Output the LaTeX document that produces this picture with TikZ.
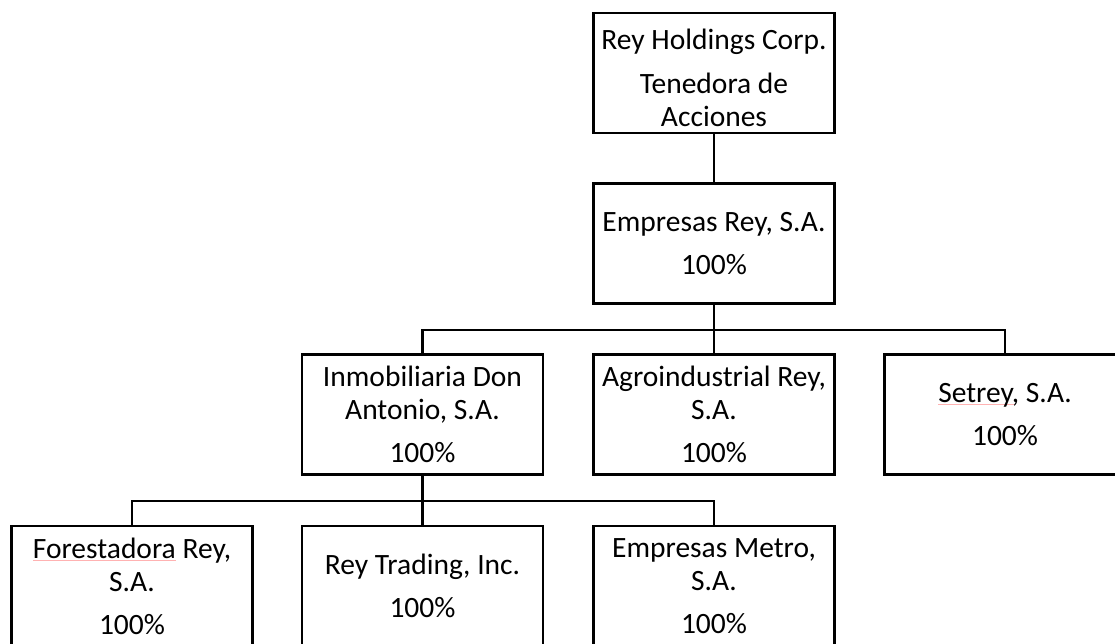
\documentclass[tikz,border=0pt]{standalone}
\usepackage{fontspec}
\setmainfont{Carlito}
\newcommand\spellmark[1]{\setbox0\hbox{#1}\rlap{\textcolor{red!30}{\rule[-2.5pt]{\wd0}{0.7pt}}}#1}
\begin{document}
\begin{tikzpicture}[x=1pt,y=-1pt,
  orgbox/.style={draw=black,line width=2.4pt,minimum width=241pt,minimum height=120pt,
    inner sep=2pt,align=center,font=\fontsize{29.5}{33}\selectfont},
  link/.style={draw=black,line width=2.4pt}]
\useasboundingbox (0,0) rectangle (1115,643);
\clip (0,0) rectangle (1115,643);
\node[orgbox] (top) at (714,73) {\rule{0pt}{31pt}Rey Holdings Corp.\\[11pt]Tenedora de\\Acciones};
\node[orgbox] (er) at (714,243.5) {Empresas Rey, S.A.\\[10pt]100\%};
\node[orgbox] (inm) at (422.5,414.5) {Inmobiliaria Don\\Antonio, S.A.\\[10pt]100\%};
\node[orgbox] (agr) at (714,414.5) {Agroindustrial Rey,\\S.A.\\[10pt]100\%};
\node[orgbox] (set) at (1005,414.5) {\spellmark{Setrey}, S.A.\\[10pt]100\%};
\node[orgbox] (for) at (132,586) {\spellmark{Forestadora} Rey,\\S.A.\\[10pt]100\%};
\node[orgbox] (tra) at (422.5,586) {Rey Trading, Inc.\\[10pt]100\%};
\node[orgbox] (met) at (714,586) {Empresas Metro,\\S.A.\\[10pt]100\%};
\coordinate (bus1) at (714,330);
\coordinate (bus2) at (422.5,501);
\draw[link] (top) -- (er);
\draw[link] (er) -- (bus1);
\draw[link] (inm.north) |- (bus1) -| (set.north);
\draw[link] (bus1) -- (agr.north);
\draw[link] (inm) -- (bus2);
\draw[link] (for.north) |- (bus2) -| (met.north);
\draw[link] (bus2) -- (tra.north);
\end{tikzpicture}
\end{document}
